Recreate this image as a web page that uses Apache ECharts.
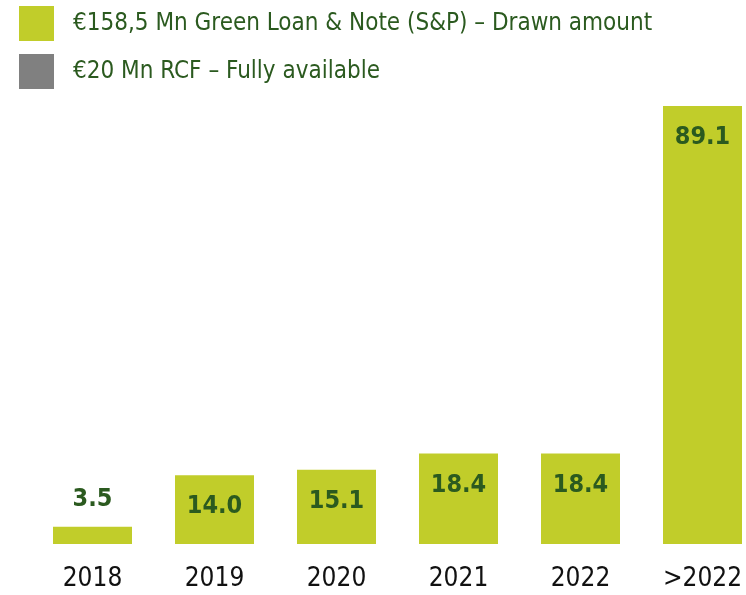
<!DOCTYPE html>
<html>
<head>
<meta charset="utf-8">
<script src="https://cdn.jsdelivr.net/npm/echarts@6/dist/echarts.min.js"></script>
<style>
  html, body { margin: 0; padding: 0; background: #ffffff; }
  #chart { width: 746px; height: 595px; }
</style>
</head>
<body>
<div id="chart"></div>
<script>
// Debt maturity profile (€ Mn)
const categories = ['2018', '2019', '2020', '2021', '2022', '>2022'];
const greenLoanValues = [3.5, 14.0, 15.1, 18.4, 18.4, 89.1];
const rcfValues = [null, null, null, null, null, null];
const seriesNames = [
  '€158,5 Mn Green Loan & Note (S&P) – Drawn amount',
  '€20 Mn RCF – Fully available'
];

const FONT = '"Liberation Sans Narrow", "Arial Narrow", "DejaVu Sans Condensed", sans-serif';
const GREEN = '#c1cd2a';
const DARK_GREEN = '#2b5a1f';

const chart = echarts.init(document.getElementById('chart'), null, { renderer: 'canvas' });

// Small bars get their label above the bar instead of inside it
const greenData = greenLoanValues.map(v => {
  if (v < 10) {
    return { value: v, label: { position: 'top', distance: 15 } };
  }
  return v;
});

chart.setOption({
  animation: false,
  backgroundColor: '#ffffff',
  legend: {
    orient: 'vertical',
    left: 19,
    top: 6,
    padding: 0,
    itemWidth: 35,
    itemHeight: 35,
    itemGap: 13,
    icon: 'rect',
    selectedMode: false,
    textStyle: {
      fontFamily: FONT,
      fontSize: 24,
      color: DARK_GREEN,
      padding: [0, 0, 0, 14]
    },
    data: seriesNames
  },
  grid: {
    left: 31.5,
    width: 732,
    top: 101.6,
    bottom: 51,
    outerBoundsMode: 'none'
  },
  xAxis: {
    type: 'category',
    data: categories,
    axisLine: { show: false },
    axisTick: { show: false },
    axisLabel: {
      fontFamily: FONT,
      fontSize: 26,
      color: '#111111',
      margin: 22
    }
  },
  yAxis: {
    type: 'value',
    min: 0,
    max: 90,
    show: false,
    splitLine: { show: false }
  },
  series: [
    {
      name: seriesNames[0],
      type: 'bar',
      stack: 'debt',
      barWidth: 79,
      itemStyle: { color: GREEN },
      label: {
        show: true,
        position: 'insideTop',
        distance: 19,
        fontFamily: FONT,
        fontWeight: 'bold',
        fontSize: 25,
        color: DARK_GREEN,
        formatter: p => Number(p.value).toFixed(1)
      },
      data: greenData
    },
    {
      name: seriesNames[1],
      type: 'bar',
      stack: 'debt',
      barWidth: 79,
      itemStyle: { color: '#808080' },
      data: rcfValues
    }
  ]
});
</script>
</body>
</html>
